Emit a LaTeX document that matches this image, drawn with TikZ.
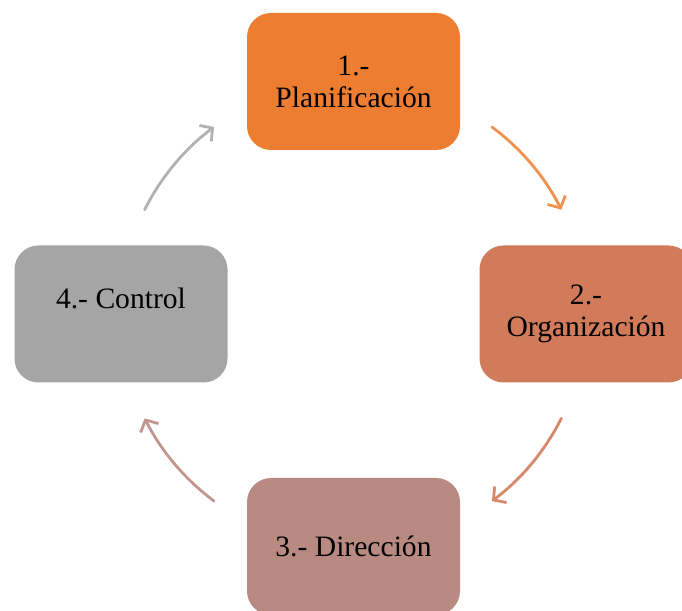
\documentclass[tikz,border=0pt]{standalone}
\usepackage{fontspec}
\setmainfont{Liberation Serif}
\usepackage{tikz}
\usetikzlibrary{arrows.meta,calc}
\definecolor{planorange}{HTML}{ED7D31}
\definecolor{orgsalmon}{HTML}{D27B5B}
\definecolor{dirrose}{HTML}{B98A81}
\definecolor{ctrlgray}{HTML}{A5A5A5}
\tikzset{
  stage/.style={rounded corners=24pt,minimum width=213pt,minimum height=137pt,
    align=center,inner sep=0pt,font=\fontsize{29.6}{32}\selectfont},
  turn/.style={line width=2.8pt,line cap=round,
    -{Straight Barb[length=9pt,width=20pt,line width=2.8pt]}}
}
\begin{document}
\begin{tikzpicture}[x=1pt,y=1pt]
  \useasboundingbox (0,0) rectangle (682,610);
  \clip (0,0) rectangle (682,610);

  % Stages of the cycle
  \node[stage,fill=planorange] (plan) at (353.5,528.5) {1.-\\Planificación};
  \node[stage,fill=orgsalmon] (org) at (586,296) {2.-\\Organización};
  \node[stage,fill=dirrose] (dir) at (353.5,63.5) {3.- Dirección};
  \node[stage,fill=ctrlgray] (ctrl) at (121,296) {4.- Control\\~};

  % Arcs between stages
  \coordinate (hub) at (353,296);
  \coordinate (t1) at ($(hub)+(53.4:233)$);
  \coordinate (t2) at ($(hub)+(-26.6:233)$);
  \coordinate (t3) at ($(hub)+(-126.6:233)$);
  \coordinate (t4) at ($(hub)+(153.4:233)$);
  \draw[turn,planorange!85] (t1) arc[start angle=53.4,end angle=26.6,radius=233];
  \draw[turn,orgsalmon!90] (t2) arc[start angle=-26.6,end angle=-53.4,radius=233];
  \draw[turn,dirrose!90] (t3) arc[start angle=-126.6,end angle=-153.4,radius=233];
  \draw[turn,ctrlgray!85] (t4) arc[start angle=153.4,end angle=126.6,radius=233];
\end{tikzpicture}
\end{document}
